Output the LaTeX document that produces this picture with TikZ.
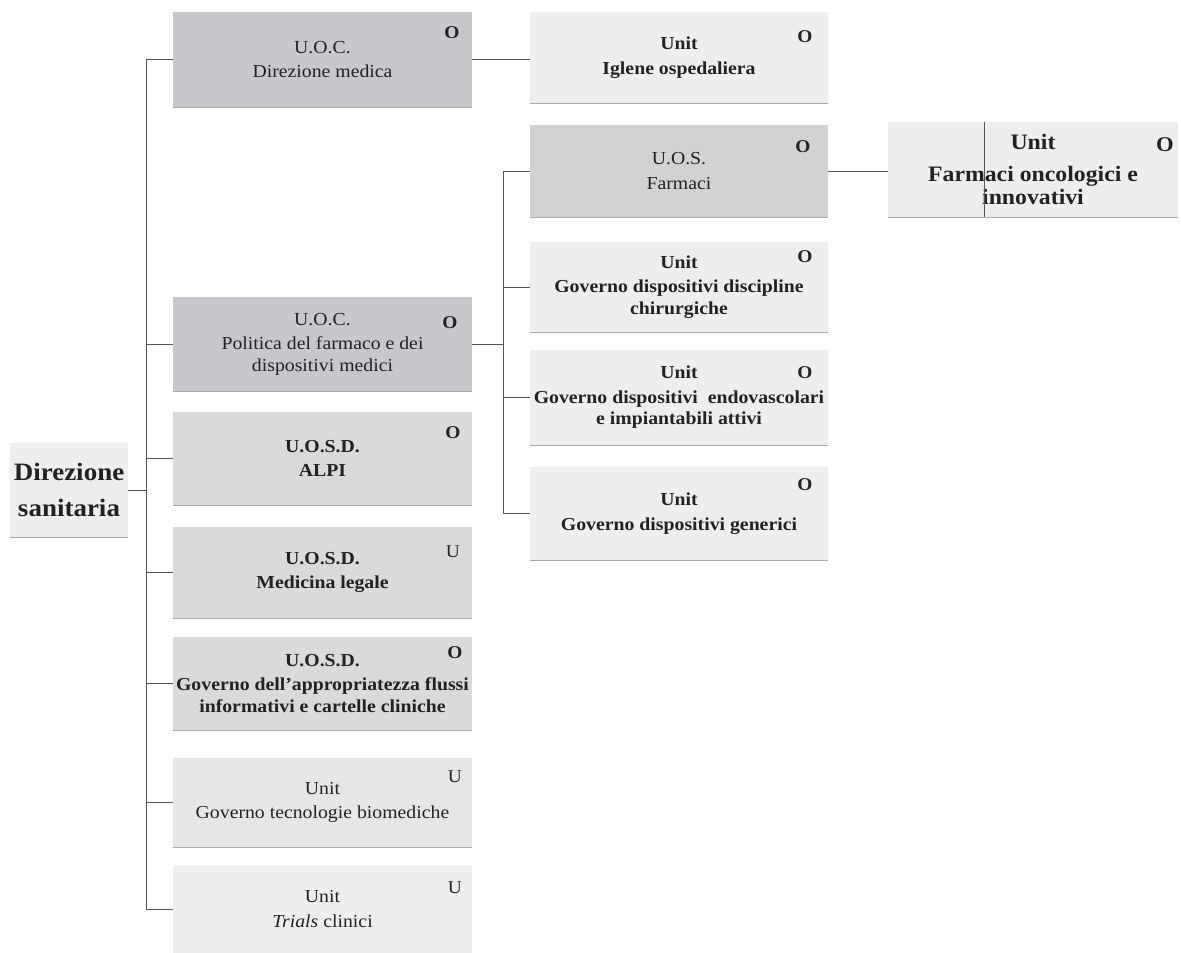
\documentclass[tikz,border=0pt]{standalone}
\usepackage{fontspec}
\setmainfont{Liberation Serif}[FakeStretch=1.08]
\definecolor{cdark}{HTML}{C8C8CC}
\definecolor{cfarm}{HTML}{D2D2D5}
\definecolor{cmid}{HTML}{DADADC}
\definecolor{clight}{HTML}{E6E6E7}
\definecolor{cpale}{HTML}{EEEEEE}
\definecolor{txt}{HTML}{222222}
\definecolor{lineg}{HTML}{555555}
\definecolor{botg}{HTML}{A8A8A8}
\tikzset{
  box/.style={rectangle, inner sep=0pt, align=center, text=txt, draw=none,
    font=\fontsize{18.3}{21.5}\selectfont},
  bbox/.style={box, font=\fontsize{18.3}{21.5}\selectfont\bfseries},
  conn/.style={draw=lineg, line width=0.9pt},
  botline/.style={draw=botg, line width=1pt},
  marker/.style={inner sep=0pt, text=txt, font=\fontsize{18}{18}\selectfont\bfseries},
  umarker/.style={inner sep=0pt, text=txt, font=\fontsize{18}{18}\selectfont}
}
\begin{document}
\begin{tikzpicture}[x=1pt,y=-1pt]
\useasboundingbox[fill=white] (0,0) rectangle (1181,953);

% root
\node[bbox, fill=cpale, minimum width=118, minimum height=94,
  font=\fontsize{25}{36}\selectfont\bfseries] (ds) at (69,490) {Direzione\\sanitaria};

% left column
\node[box, fill=cdark, minimum width=299, minimum height=95] (dm) at (322.5,59.5)
  {U.O.C.\\[3pt]Direzione medica};
\node[box, fill=cdark, minimum width=299, minimum height=94] (pol) at (322.5,344)
  {U.O.C.\\[3pt]Politica del farmaco e dei\\dispositivi medici};
\node[bbox, fill=cmid, minimum width=299, minimum height=93] (alpi) at (322.5,458.5)
  {U.O.S.D.\\[3pt]ALPI};
\node[bbox, fill=cmid, minimum width=299, minimum height=91] (ml) at (322.5,572.5)
  {U.O.S.D.\\[3pt]Medicina legale};
\node[bbox, fill=cmid, minimum width=299, minimum height=93] (ga) at (322.5,683.5)
  {U.O.S.D.\\[3pt]Governo dell'appropriatezza flussi\\informativi e cartelle cliniche};
\node[box, fill=clight, minimum width=299, minimum height=89] (gt) at (322.5,802.5)
  {Unit\\[3pt]Governo tecnologie biomediche};
\node[box, fill=cpale, minimum width=299, minimum height=88] (tc) at (322.5,909)
  {Unit\\[3pt]\textit{Trials} clinici};

% right column
\node[bbox, fill=cpale, minimum width=298, minimum height=91] (ig) at (679,57.5)
  {Unit\\[3pt]Iglene ospedaliera};
\node[box, fill=cfarm, minimum width=298, minimum height=92] (fa) at (679,171)
  {U.O.S.\\[3pt]Farmaci};
\node[bbox, fill=cpale, minimum width=298, minimum height=90] (dc) at (679,287)
  {Unit\\[3pt]Governo dispositivi discipline\\chirurgiche};
\node[bbox, fill=cpale, minimum width=298, minimum height=95] (de) at (679,397.5)
  {Unit\\[3pt]Governo dispositivi\ \ endovascolari\\e impiantabili attivi};
\node[bbox, fill=cpale, minimum width=298, minimum height=93] (dg) at (679,513.5)
  {Unit\\[3pt]Governo dispositivi generici};

% far right
\node[bbox, fill=cpale, minimum width=290, minimum height=95,
  font=\fontsize{22}{23}\selectfont\bfseries] (fo) at (1033,169.5)
  {Unit\\[9pt]Farmaci oncologici e\\innovativi};

% bottom edges
\foreach \n in {ds,dm,pol,alpi,ml,ga,gt,ig,fa,dc,de,dg,fo}
  \draw[botline] (\n.south west) -- (\n.south east);

% markers
\node[marker] (mdm) at (452,33) {O};
\node[marker] (mpol) at (450,323) {O};
\node[marker] (malpi) at (453,433) {O};
\node[umarker] (mml) at (453,552) {U};
\node[marker] (mga) at (455,653) {O};
\node[umarker] (mgt) at (455,777) {U};
\node[umarker] (mtc) at (455,888) {U};
\node[marker] (mig) at (805,37) {O};
\node[marker] (mfa) at (803,147) {O};
\node[marker] (mdc) at (805,257) {O};
\node[marker] (mde) at (805,373) {O};
\node[marker] (mdg) at (805,485) {O};
\node[marker, font=\fontsize{21}{21}\selectfont\bfseries] (mfo) at (1165,145) {O};

% trunk
\coordinate (trunk) at (146,0);
\coordinate (sub) at (503,0);
\draw[conn] (ds.east) -- (ds.east -| trunk);
\draw[conn] (dm.west) -- (dm.west -| trunk) -- (tc.west -| trunk) -- (tc.west);
\foreach \n in {pol,alpi,ml,ga,gt}
  \draw[conn] (\n.west) -- (\n.west -| trunk);
\draw[conn] (dm.east) -- (dm.east -| ig.west);
\draw[conn] (pol.east) -- (pol.east -| sub);
\draw[conn] (fa.west) -- (fa.west -| sub) -- (dg.west -| sub) -- (dg.west);
\foreach \n in {dc,de}
  \draw[conn] (\n.west) -- (\n.west -| sub);
\draw[conn] (fa.east) -- (fa.east -| fo.west);
\draw[conn] ([xshift=-49pt]fo.north) -- ([xshift=-49pt]fo.south);
\end{tikzpicture}
\end{document}
